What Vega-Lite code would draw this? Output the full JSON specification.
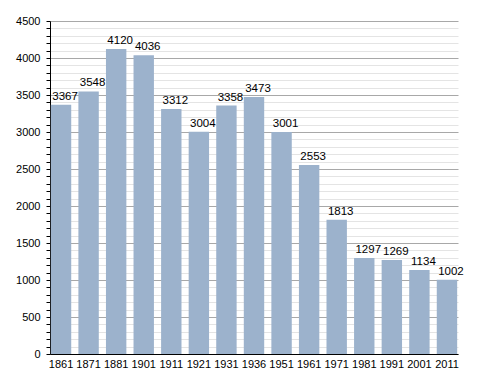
{
  "$schema": "https://vega.github.io/schema/vega-lite/v6.json",
  "width": 408,
  "height": 333,
  "autosize": {"type": "none"},
  "padding": {"left": 50, "top": 21, "right": 30, "bottom": 19},
  "background": "white",
  "config": {
    "view": {"stroke": null},
    "font": "Liberation Sans",
    "axis": {"labelFont": "Liberation Sans", "labelFontSize": 11, "labelColor": "#000"}
  },
  "data": {
    "values": [
      {"year": "1861", "pop": 3367},
      {"year": "1871", "pop": 3548},
      {"year": "1881", "pop": 4120},
      {"year": "1901", "pop": 4036},
      {"year": "1911", "pop": 3312},
      {"year": "1921", "pop": 3004},
      {"year": "1931", "pop": 3358},
      {"year": "1936", "pop": 3473},
      {"year": "1951", "pop": 3001},
      {"year": "1961", "pop": 2553},
      {"year": "1971", "pop": 1813},
      {"year": "1981", "pop": 1297},
      {"year": "1991", "pop": 1269},
      {"year": "2001", "pop": 1134},
      {"year": "2011", "pop": 1002}
    ]
  },
  "encoding": {
    "x": {
      "field": "year", "type": "ordinal", "sort": null,
      "scale": {"paddingInner": 0.26, "paddingOuter": 0.03},
      "axis": {"title": null, "labelAngle": 0, "ticks": false, "domainColor": "#000", "labelPadding": 4}
    },
    "y": {
      "field": "pop", "type": "quantitative",
      "scale": {"domain": [0, 4500], "nice": false},
      "axis": {
        "title": null,
        "values": [0,100,200,300,400,500,600,700,800,900,1000,1100,1200,1300,1400,1500,1600,1700,1800,1900,2000,2100,2200,2300,2400,2500,2600,2700,2800,2900,3000,3100,3200,3300,3400,3500,3600,3700,3800,3900,4000,4100,4200,4300,4400,4500],
        "labelExpr": "datum.value % 500 === 0 ? datum.label : ''",
        "format": "d",
        "grid": true,
        "gridColor": {"condition": {"test": "datum.value % 500 === 0", "value": "#a8a8a8"}, "value": "#e4e4e4"},
        "gridWidth": 1,
        "domainColor": "#000",
        "tickColor": "#000",
        "tickSize": 4,
        "labelPadding": 6
      }
    }
  },
  "layer": [
    {"mark": {"type": "bar", "color": "#9cb2cc"}},
    {
      "mark": {"type": "text", "baseline": "bottom", "dx": 4, "dy": -3, "fontSize": 11.5, "color": "#000", "font": "Liberation Sans"},
      "encoding": {"text": {"field": "pop", "type": "quantitative", "format": "d"}}
    }
  ]
}
